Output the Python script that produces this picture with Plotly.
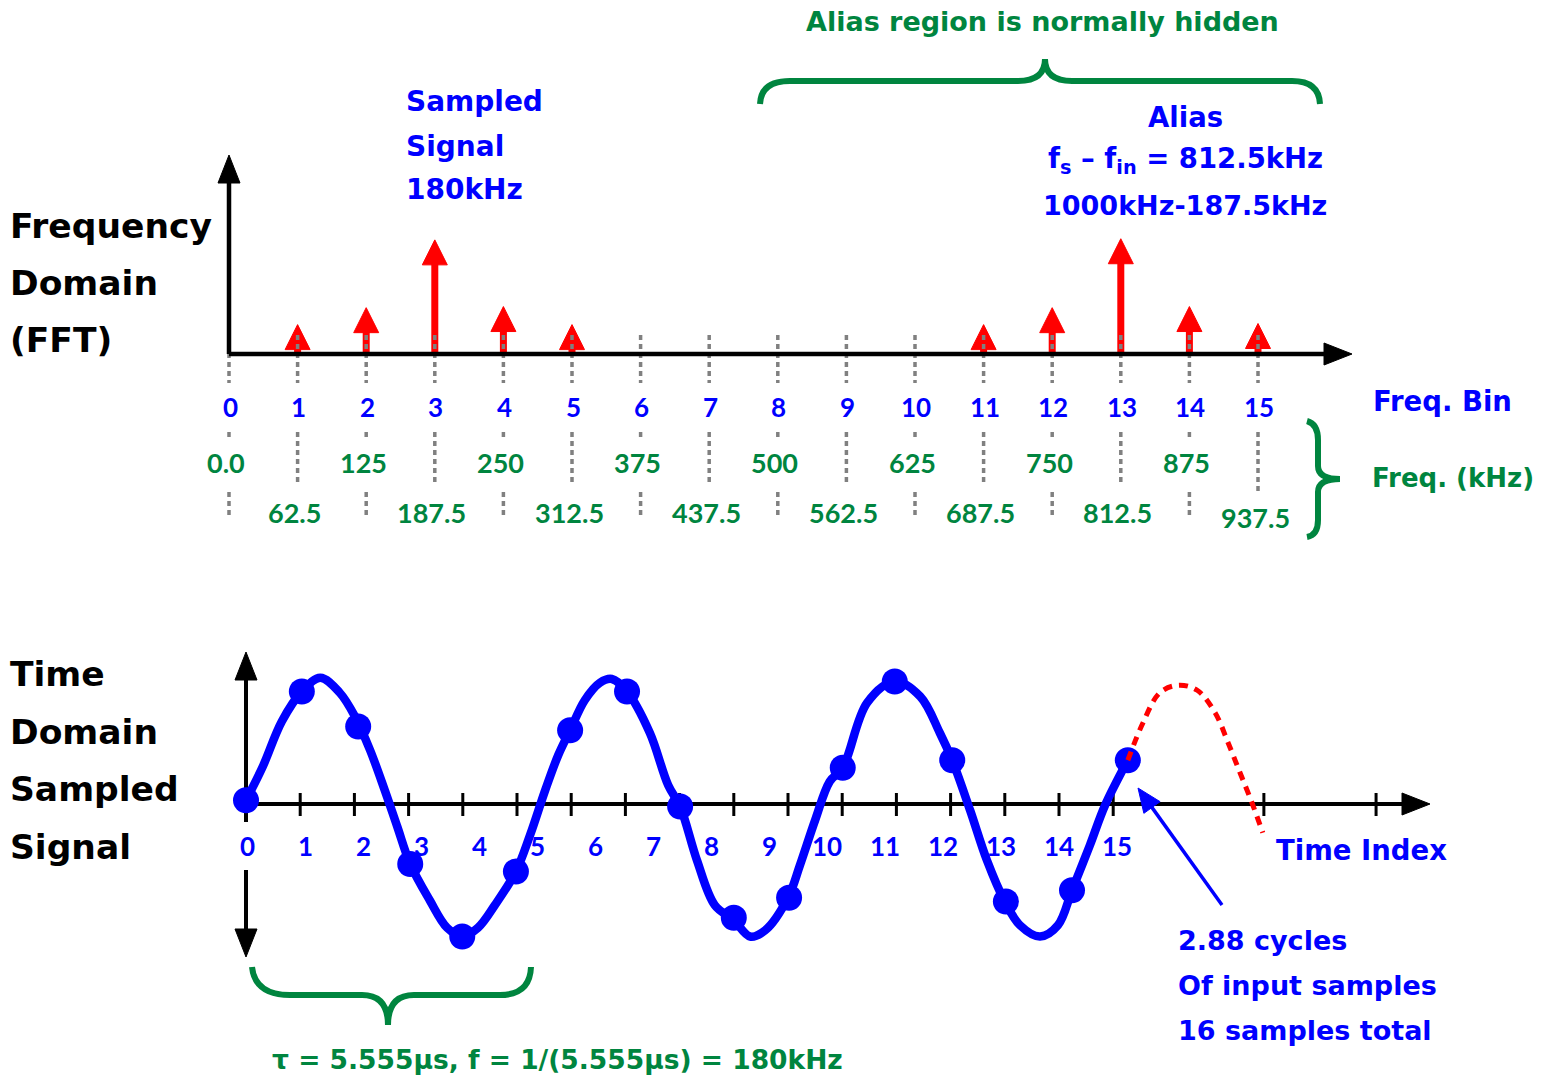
import math
import plotly.graph_objects as go

# ---------------- data ----------------
freq_bins = list(range(16))
bin_amplitudes = [0, 0.26, 0.41, 1.01, 0.42, 0.26, 0, 0, 0, 0, 0, 0.26, 0.41, 1.02, 0.42, 0.27]
freq_khz_labels = ["0.0", "62.5", "125", "187.5", "250", "312.5", "375", "437.5",
                   "500", "562.5", "625", "687.5", "750", "812.5", "875", "937.5"]

time_labels = [str(i) for i in range(16)]
sample_x = [0, 1.03, 2.07, 3.03, 3.99, 4.98, 5.98, 7.03, 8.01, 9.00, 10.02, 11.01, 11.97, 13.03, 14.02, 15.24, 16.27]
sample_y = [0.03, 0.90, 0.62, -0.48, -1.06, -0.54, 0.59, 0.90, -0.02, -0.91, -0.75, 0.29, 0.98, 0.35, -0.78, -0.69, 0.35]

curve_x = [0, 0.31, 0.66, 1.03, 1.37, 1.73, 2.01, 2.29, 2.56, 2.79, 3.03, 3.39, 3.71, 3.99, 4.28, 4.59,
           4.98, 5.24, 5.52, 5.76, 5.98, 6.25, 6.53, 6.75, 7.03, 7.45, 7.79, 8.01, 8.32, 8.65, 9.00, 9.30,
           9.58, 10.00, 10.22, 10.50, 10.77, 11.01, 11.46, 11.97, 12.44, 12.80, 13.03, 13.36, 13.67, 14.00,
           14.28, 14.65, 14.98, 15.24, 15.57, 15.85, 16.27]
curve_y = [0.03, 0.30, 0.66, 0.90, 1.01, 0.89, 0.70, 0.43, 0.11, -0.18, -0.48, -0.77, -0.99, -1.06, -0.99, -0.81,
           -0.54, -0.25, 0.11, 0.39, 0.59, 0.83, 0.97, 1.00, 0.90, 0.57, 0.15, -0.02, -0.45, -0.81, -0.93, -1.06,
           -1.01, -0.75, -0.49, -0.13, 0.18, 0.29, 0.81, 0.98, 0.86, 0.57, 0.35, -0.05, -0.45, -0.78,
           -0.97, -1.06, -0.97, -0.69, -0.33, -0.01, 0.35]
alias_x = [16.27, 16.55, 16.86, 17.20, 17.55, 17.88, 18.12, 18.34, 18.56, 18.76]
alias_y = [0.35, 0.65, 0.89, 0.95, 0.91, 0.73, 0.49, 0.25, 0.01, -0.23]

time_ticks = list(range(17)) + [18.78, 20.85]

# ---------------- geometry / style ----------------
W, H = 1541, 1079
BLUE, RED, GREEN, GRAY = "#0000FF", "#FF0000", "#00853F", "#808080"
TFONT = "DejaVu Sans"   # wide bold captions
LFONT = "Lato"          # numeric labels

# top (frequency) axes: pixel position of origin and pixels per unit
F_X0, F_DX, F_Y0, F_DY = 229, 68.6, 354, 113
# bottom (time) axes
T_X0, T_DX, T_Y0, T_DY = 246, 54.2, 804, 125


def fx(px):
    return (px - F_X0) / F_DX


def fy(py):
    return (F_Y0 - py) / F_DY


def tx(px):
    return (px - T_X0) / T_DX


def ty(py):
    return (T_Y0 - py) / T_DY


def PX(px):
    return px / W


def PY(py):
    return 1 - py / H


fig = go.Figure()

# ---- red spectral arrows (shaft + head) ----
head_hw = 12.5 / F_DX
head_len = 25 / F_DY
sx, sy, hx, hy = [], [], [], []
for b, a in zip(freq_bins, bin_amplitudes):
    if a <= 0:
        continue
    sx += [b, b, None]
    sy += [0, a - head_len + 0.02, None]
    hx += [b - head_hw, b + head_hw, b, b - head_hw, None]
    hy += [a - head_len, a - head_len, a, a - head_len, None]
fig.add_trace(go.Scatter(x=sx, y=sy, mode="lines", line=dict(color=RED, width=7),
                         hoverinfo="skip", xaxis="x", yaxis="y"))
fig.add_trace(go.Scatter(x=hx, y=hy, mode="lines", fill="toself", fillcolor=RED,
                         line=dict(color=RED, width=1), hoverinfo="skip", xaxis="x", yaxis="y"))

# ---- gray dotted guides ----
gx, gy = [], []
for b in freq_bins:
    segs = [(335, 383)]
    if b % 2 == 0:
        segs += [(432, 438), (492, 518)]
    else:
        segs += [(432, 492 if b == 15 else 486)]
    for p0, p1 in segs:
        gx += [b, b, None]
        gy += [fy(p0), fy(p1), None]
fig.add_trace(go.Scatter(x=gx, y=gy, mode="lines", line=dict(color=GRAY, width=3.5, dash="5px,4px"),
                         hoverinfo="skip", xaxis="x", yaxis="y"))


# ---- axis arrows drawn as traces (pixel geometry converted to axis units) ----
def arrow_parts(tail, tip, hl, hw, cx, cy):
    (x0, y0), (x1, y1) = tail, tip
    d = math.hypot(x1 - x0, y1 - y0)
    ux, uy = (x1 - x0) / d, (y1 - y0) / d
    bx, by = x1 - ux * hl, y1 - uy * hl
    nx, ny = -uy, ux
    shaft = ([cx(x0), cx(bx + ux * 2), None], [cy(y0), cy(by + uy * 2), None])
    pts = [(bx + nx * hw / 2, by + ny * hw / 2), (x1, y1), (bx - nx * hw / 2, by - ny * hw / 2)]
    pts.append(pts[0])
    head = ([cx(p[0]) for p in pts] + [None], [cy(p[1]) for p in pts] + [None])
    return shaft, head


def add_arrows(specs, color, width, hl, hw, cx, cy, xa, ya):
    SX, SY, HX, HY = [], [], [], []
    for tail, tip in specs:
        (s_x, s_y), (h_x, h_y) = arrow_parts(tail, tip, hl, hw, cx, cy)
        SX += s_x
        SY += s_y
        HX += h_x
        HY += h_y
    fig.add_trace(go.Scatter(x=SX, y=SY, mode="lines", line=dict(color=color, width=width),
                             hoverinfo="skip", xaxis=xa, yaxis=ya))
    fig.add_trace(go.Scatter(x=HX, y=HY, mode="lines", fill="toself", fillcolor=color,
                             line=dict(color=color, width=1), hoverinfo="skip", xaxis=xa, yaxis=ya))


add_arrows([((F_X0, F_Y0), (1352, F_Y0)), ((F_X0, F_Y0), (F_X0, 155))],
           "black", 4.5, 28, 22, fx, fy, "x", "y")

# ---- time-domain ticks ----
kx, ky = [], []
for t in time_ticks[1:]:
    kx += [t, t, None]
    ky += [ty(793), ty(816), None]
fig.add_trace(go.Scatter(x=kx, y=ky, mode="lines", line=dict(color="black", width=3),
                         hoverinfo="skip", xaxis="x2", yaxis="y2"))
add_arrows([((T_X0, T_Y0), (1430, T_Y0)), ((T_X0, 822), (T_X0, 652)), ((T_X0, 870), (T_X0, 957))],
           "black", 4, 28, 22, tx, ty, "x2", "y2")

# ---- sine curve, samples, alias continuation ----
fig.add_trace(go.Scatter(x=curve_x, y=curve_y, mode="lines", line=dict(color=BLUE, width=8.5, shape="spline"),
                         hoverinfo="skip", xaxis="x2", yaxis="y2"))
fig.add_trace(go.Scatter(x=sample_x, y=sample_y, mode="markers", marker=dict(color=BLUE, size=26),
                         hoverinfo="skip", xaxis="x2", yaxis="y2"))
fig.add_trace(go.Scatter(x=alias_x, y=alias_y, mode="lines",
                         line=dict(color=RED, width=5, dash="9px,7px", shape="spline"),
                         hoverinfo="skip", xaxis="x2", yaxis="y2"))
# pointer to the last sample
add_arrows([((1222, 905), (1138, 788))], BLUE, 3.5, 24, 20, tx, ty, "x2", "y2")

ann = []


def text(s, px, py, color, size, anchor="left", family=TFONT):
    ann.append(dict(text="<b>" + s + "</b>", x=PX(px), y=PY(py), xref="paper", yref="paper",
                    xanchor=anchor, yanchor="middle", showarrow=False,
                    font=dict(family=family, size=size, color=color)))


# left titles
for s, py in zip(["Frequency", "Domain", "(FFT)"], [226, 283, 340]):
    text(s, 8, py, "black", 34.5)
for s, py in zip(["Time", "Domain", "Sampled", "Signal"], [674, 732, 789, 847]):
    text(s, 8, py, "black", 34.5)

# blue annotations
for s, py in zip(["Sampled", "Signal", "180kHz"], [101, 146, 190]):
    text(s, 404, py, BLUE, 28)
text("Alias", 1185, 117, BLUE, 27.5, "center")
text("f<sub>s</sub> – f<sub>in</sub> = 812.5kHz", 1185, 161, BLUE, 27.5, "center")
text("1000kHz-187.5kHz", 1185, 205, BLUE, 27, "center")
text("Freq. Bin", 1371, 401, BLUE, 27.5)
text("Time Index", 1274, 850, BLUE, 27.5)
for s, py in zip(["2.88 cycles", "Of input samples", "16 samples total"], [940, 985, 1030]):
    text(s, 1176, py, BLUE, 27)

# green annotations
text("Alias region is normally hidden", 1042, 21, GREEN, 27, "center")
text("Freq. (kHz)", 1370, 478, GREEN, 26)
text("τ = 5.555µs, f = 1/(5.555µs) = 180kHz", 557, 1059, GREEN, 26.5, "center")

# frequency bin labels and kHz labels
for b, lab in zip(freq_bins, freq_khz_labels):
    ann.append(dict(text="<b>%d</b>" % b, x=b + 1 / F_DX, y=fy(407), xref="x", yref="y",
                    showarrow=False, xanchor="center", yanchor="middle",
                    font=dict(family=LFONT, size=26, color=BLUE)))
    py = 462 if b % 2 == 0 else (517 if b == 15 else 512)
    ann.append(dict(text="<b>" + lab + "</b>", x=b - 3 / F_DX, y=fy(py), xref="x", yref="y",
                    showarrow=False, xanchor="center", yanchor="middle",
                    font=dict(family=LFONT, size=27, color=GREEN)))

# time index labels (spaced slightly wider than the ticks, as in the original)
label_step = 58 / T_DX
for i, lab in enumerate(time_labels):
    ann.append(dict(text="<b>" + lab + "</b>", x=i * label_step + 1 / T_DX, y=ty(846), xref="x2", yref="y2",
                    showarrow=False, xanchor="center", yanchor="middle",
                    font=dict(family=LFONT, size=26, color=BLUE)))


# braces (green), pixel paths converted to paper coords
def path(cmds):
    out = []
    for c in cmds:
        if isinstance(c, str):
            out.append(c)
        else:
            out.append("%.5f,%.5f" % (PX(c[0]), PY(c[1])))
    return " ".join(out)


brace_top = path(["M", (760, 104), "Q", (761, 81), (790, 81), "L", (1018, 81), "Q", (1045, 81), (1045, 59),
                  "Q", (1045, 81), (1072, 81), "L", (1292, 81), "Q", (1319, 81), (1320, 104)])
brace_right = path(["M", (1307, 421), "Q", (1318, 424), (1318, 440), "L", (1318, 466), "Q", (1318, 479), (1340, 479),
                    "Q", (1318, 479), (1318, 492), "L", (1318, 520), "Q", (1318, 535), (1307, 537)])
brace_bottom = path(["M", (252, 967), "Q", (255, 995), (290, 995), "L", (362, 995), "Q", (388, 995), (388, 1025),
                     "Q", (388, 995), (414, 995), "L", (500, 995), "Q", (530, 995), (531, 967)])
shapes = [dict(type="path", path=p, xref="paper", yref="paper", line=dict(color=GREEN, width=6))
          for p in (brace_top, brace_right, brace_bottom)]

fig.update_layout(
    width=W, height=H, margin=dict(l=0, r=0, t=0, b=0),
    paper_bgcolor="white", plot_bgcolor="white", showlegend=False,
    xaxis=dict(range=[fx(0), fx(W)], visible=False, domain=[0, 1], fixedrange=True),
    yaxis=dict(range=[fy(H), fy(0)], visible=False, domain=[0, 1], fixedrange=True),
    xaxis2=dict(range=[tx(0), tx(W)], visible=False, overlaying="x", anchor="y2", fixedrange=True),
    yaxis2=dict(range=[ty(H), ty(0)], visible=False, overlaying="y", anchor="x2", fixedrange=True),
    annotations=ann, shapes=shapes,
)

fig.write_html("out.html", config={"displayModeBar": False},
               post_script="document.body.style.margin='0';document.body.style.overflow='hidden';")
